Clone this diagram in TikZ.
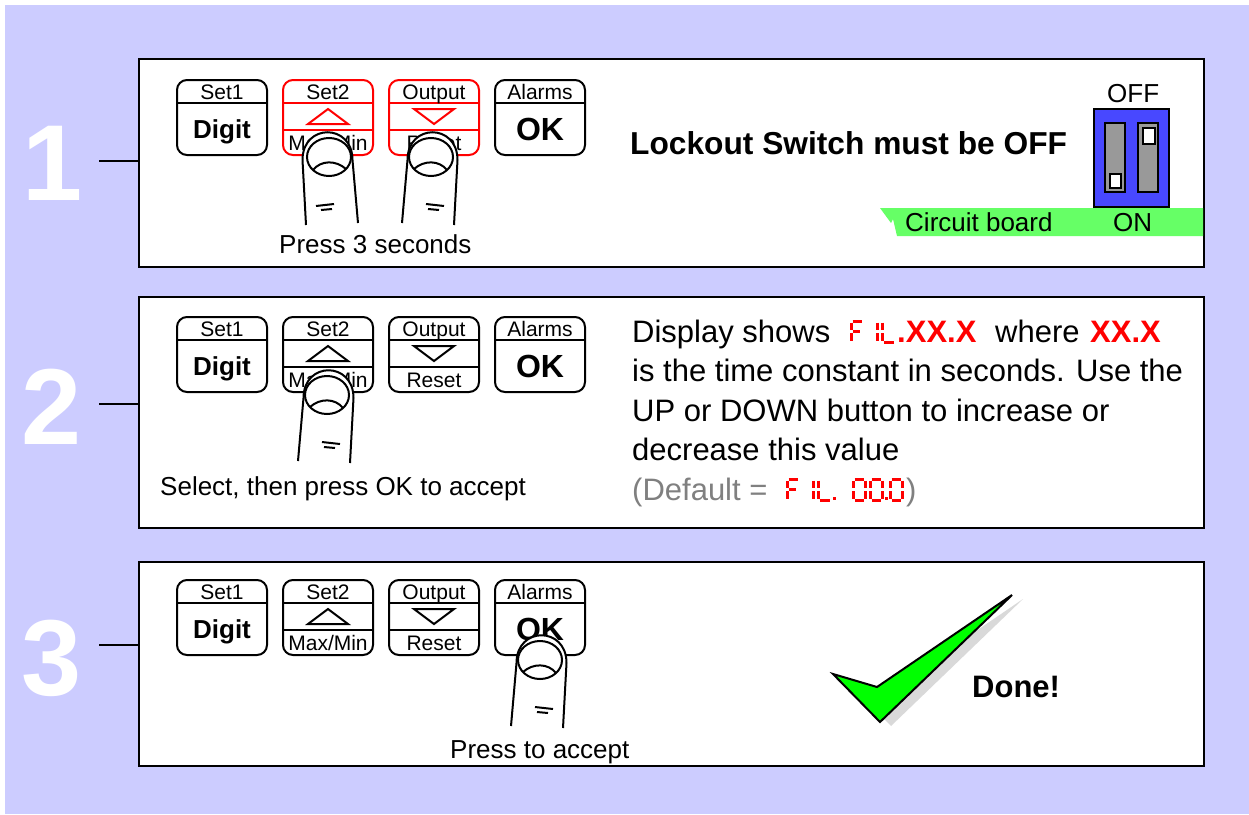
\documentclass[tikz,border=0pt]{standalone}
\usepackage{fontspec}
\setmainfont{Liberation Sans}
\definecolor{lavender}{RGB}{204,204,255}
\definecolor{dipblue}{RGB}{72,72,255}
\definecolor{slotgray}{RGB}{153,153,153}
\definecolor{boardgreen}{RGB}{102,255,102}
\definecolor{tickgreen}{RGB}{0,255,0}
\definecolor{tickshade}{RGB}{217,217,217}
\definecolor{notegray}{RGB}{128,128,128}

\begin{document}
\begin{tikzpicture}[x=1pt, y=-1pt,
    panel/.style={draw, line width=2.5pt, fill=white, minimum width=1065pt, inner sep=0pt},
    stepnum/.style={text=white, font=\fontsize{108}{108}\selectfont\bfseries},
    lbl/.style={anchor=base, inner sep=0pt, font=\fontsize{21}{21}\selectfont},
    caption/.style={anchor=base west, inner sep=0pt, font=\fontsize{26}{26}\selectfont},
    body/.style={anchor=base west, inner sep=0pt, font=\fontsize{31}{31}\selectfont},
    heavy/.style={body, font=\fontsize{31}{31}\selectfont\bfseries},
    seg/.style={red, line width=3pt},
    pics/bigkey/.style n args={3}{code={
        \draw[line width=2pt, rounded corners=10pt] (0,0) rectangle (90,75);
        \draw[line width=2pt] (0,23) -- (90,23);
        \node[lbl] (-top) at (45,19) {#1};
        \node[lbl, font=\fontsize{#3}{#3}\selectfont\bfseries] (-main) at (45,{49+0.36*#3}) {#2};
    }},
    pics/arrowkey/.style n args={4}{code={
        \draw[#4, line width=2pt, rounded corners=10pt] (0,0) rectangle (90,75);
        \draw[#4, line width=2pt] (0,23) -- (90,23) (0,50) -- (90,50);
        \draw[#4, line width=2pt] (25,{36.5+7.5*#3}) -- (65,{36.5+7.5*#3}) -- (45,{36.5-7.5*#3}) -- cycle;
        \node[lbl] (-top) at (45,19) {#1};
        \node[lbl] (-bot) at (45,70) {#2};
    }},
    pics/keyrow/.style={code={
        \pic (-a) at (0,0) {bigkey={Set1}{Digit}{26}};
        \pic (-b) at (106,0) {arrowkey={Set2}{Max/Min}{1}{#1}};
        \pic (-c) at (212,0) {arrowkey={Output}{Reset}{-1}{#1}};
        \pic (-d) at (318,0) {bigkey={Alarms}{OK}{32}};
    }},
    pics/finger/.style={code={
        \fill[white] (-22,68) -- (-25.5,3) .. controls (-25.5,-34) and (24.5,-34) .. (24.5,3) -- (30,66) -- cycle;
        \draw[line width=2pt] (-22,68) -- (-25.5,3) .. controls (-25.5,-34) and (24.5,-34) .. (24.5,3) -- (30,66);
        \draw[line width=2pt] (1,0) ellipse [x radius=22, y radius=19];
        \draw[line width=2pt] (-15,13) .. controls (-7,3) and (8,3) .. (18,12);
        \draw[line width=2pt] (-12,49) -- (6,47) (-7,53) -- (4,52);
    }},
    % seven segment glyphs, origin at the baseline
    pics/sevF/.style={code={\draw[seg] (1.5,-21) -- (11,-21) (0,-19.5) -- (0,-12) (0,-9) -- (0,-1.5) (1.5,-10.5) -- (9,-10.5);}},
    pics/sevI/.style={code={\draw[seg] (12,-19.5) -- (12,-12) (12,-9) -- (12,-1.5);}},
    pics/sevL/.style={code={\draw[seg] (0,-19.5) -- (0,-12) (0,-9) -- (0,-1.5) (1.5,0) -- (12,0);}},
    pics/sevO/.style={code={\draw[seg] (1.5,-21) -- (10.5,-21) (12,-19.5) -- (12,-12) (12,-9) -- (12,-1.5)
        (1.5,0) -- (10.5,0) (0,-9) -- (0,-1.5) (0,-19.5) -- (0,-12);}},
    pics/sevdot/.style={code={\fill[red] (0,-3) rectangle (3,0);}},
]
\useasboundingbox (0,0) rectangle (1249,814);
\fill[lavender] (5,5) rectangle (1249,814);

% panels and step numbers
\node[panel, minimum height=208pt] (p1) at (671.5,163) {};
\node[panel, minimum height=231pt] (p2) at (671.5,412.5) {};
\node[panel, minimum height=204pt] (p3) at (671.5,664) {};

\node[stepnum] (n1) at (53,163) {1};
\node[stepnum] (n2) at (52,407) {2};
\node[stepnum] (n3) at (52,658) {3};

\coordinate (t1) at (99,161);
\coordinate (t2) at (99,404);
\coordinate (t3) at (99,645);
\draw[line width=2pt] (t1) -- (t1 -| p1.west);
\draw[line width=2pt] (t2) -- (t2 -| p2.west);
\draw[line width=2pt] (t3) -- (t3 -| p3.west);

% step 1
\pic (r1) at (177,80) {keyrow=red};
\pic (f1a) at (328,157) {finger};
\pic[xscale=-1] (f1b) at (432,157) {finger};
\node[caption] (c1) at (279,253) {Press 3 seconds};
\node[heavy, font=\fontsize{31.7}{31.7}\selectfont\bfseries] (lock) at (630,154) {Lockout Switch must be OFF};

\fill[boardgreen] (880,208) -- (1203,208) -- (1203,236) -- (897,236) -- (893,219) -- (891,223) -- cycle;
\node[caption] (board) at (905,231) {Circuit board};
\node[caption] (on) at (1113,231) {ON};
\node[caption] (off) at (1107,102) {OFF};
\node[draw, fill=dipblue, line width=2pt, minimum width=75pt, minimum height=98pt] (dip) at (1131.5,158) {};
\node[draw, fill=slotgray, line width=2pt, minimum width=20pt, minimum height=69pt, inner sep=0pt] (slotl) at (1115,157.5) {};
\node[draw, fill=slotgray, line width=2pt, minimum width=20pt, minimum height=69pt, inner sep=0pt] (slotr) at (1148,157.5) {};
\node[draw, fill=white, line width=2pt, minimum width=11pt, minimum height=14pt, inner sep=0pt] (knobl) at (1115,181) {};
\node[draw, fill=white, line width=2pt, minimum width=12pt, minimum height=16pt, inner sep=0pt] (knobr) at (1148.5,136) {};

% step 2
\pic (r2) at (177,317) {keyrow=black};
\pic[xscale=-1] (f2) at (328,395) {finger};
\node[caption] (c2) at (160,495) {Select, then press OK to accept};

\node[body] (d1) at (632,342) {Display shows};
\pic (s1) at (851,342) {sevF};
\pic (s2) at (865,342) {sevI};
\pic (s3) at (882,342) {sevL};
\node[heavy, red] (v1) at (897,342) {.XX.X};
\node[body] (d1b) at (995,342) {where};
\node[heavy, red] (v2) at (1090,342) {XX.X};
\node[body] (d2) at (632,381.5) {is the time constant in seconds. Use the};
\node[body] (d3) at (632,421) {UP or DOWN button to increase or};
\node[body] (d4) at (632,460.5) {decrease this value};
\node[body, notegray] (d5) at (632,500) {(Default =};
\pic (z1) at (787,500) {sevF};
\pic (z2) at (801,500) {sevI};
\pic (z3) at (818,500) {sevL};
\pic (z4) at (833,500) {sevdot};
\pic (z5) at (853,500) {sevO};
\pic (z6) at (870,500) {sevO};
\pic (z7) at (885,500) {sevdot};
\pic (z8) at (890,500) {sevO};
\node[body, notegray] (d5b) at (906,500) {)};

% step 3
\pic (r3) at (177,580) {keyrow=black};
\pic[xscale=-1] (f3) at (541,660) {finger};
\node[caption] (c3) at (450,758) {Press to accept};

\fill[tickshade, shift={(11,4)}] (833,674) -- (877,687) -- (1012,595) -- (880,722) -- cycle;
\draw[fill=tickgreen, line width=2pt] (833,674) -- (877,687) -- (1012,595) -- (880,722) -- cycle;
\node[heavy] (done) at (972,697) {Done!};
\end{tikzpicture}
\end{document}
